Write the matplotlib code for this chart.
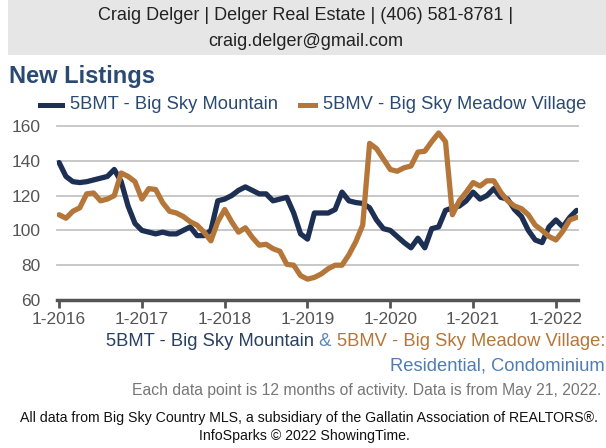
import matplotlib
matplotlib.use("Agg")
import matplotlib.pyplot as plt
import numpy as np

plt.rcParams['font.family'] = ['Liberation Sans', 'DejaVu Sans']

# monthly values, Jan 2016 .. Apr 2022
bmt = [139, 131, 128, 127.5, 128, 129, 130, 131, 135, 128, 114, 104,
       100, 99, 98, 99, 98, 98, 100, 102, 97, 97, 100, 117,
       118, 120, 123, 125, 123, 121, 121, 117, 118, 119, 110, 98,
       95, 110, 110, 110, 112, 122, 117, 116, 115.5, 113, 106, 101,
       100, 96.5, 93, 90, 95.5, 90, 101, 102, 111.5, 113, 114, 117,
       122, 118, 120, 124, 119, 118, 112, 108, 100, 94.5, 93, 102,
       106, 102, 107.5, 111.5]
bmv = [109, 107, 111, 113, 121, 121.5, 117, 118, 120, 133, 131, 128,
       118, 124, 123.5, 116, 111, 110, 108, 105, 103, 99, 94, 105,
       112, 105, 99, 101.5, 96, 91.5, 92, 89.5, 88, 80.5, 80, 74,
       72, 73, 75, 78, 80, 80, 86, 93.5, 103, 150, 147, 141,
       135, 134, 136, 137, 145, 145.5, 151, 156, 151, 109, 117, 122,
       127.5, 125.5, 128.5, 128.5, 122, 117, 114, 112.5, 109, 103, 100, 96.5,
       94.5, 99.5, 106, 107.5]
years = ["1-2016", "1-2017", "1-2018", "1-2019", "1-2020", "1-2021", "1-2022"]
yticks = [60, 80, 100, 120, 140, 160]

navy = "#1d2f52"
copper = "#b5763a"
W, H = 606, 448


def px(x, y):
    return x / W, 1 - y / H


fig = plt.figure(figsize=(W / 100, H / 100), dpi=100)
fig.patch.set_facecolor("white")

# header box
fig.patches.append(plt.Rectangle(px(8, 55), 1, 55 / H, transform=fig.transFigure,
                                 facecolor="#e6e6e6", edgecolor="none"))
fig.text(*px(306, 16), "Craig Delger | Delger Real Estate | (406) 581-8781 |",
         ha="center", va="center", fontsize=13, color="#222222")
fig.text(*px(306, 42), "craig.delger@gmail.com", ha="center", va="center",
         fontsize=13, color="#222222")

fig.text(*px(9, 77), "New Listings", ha="left", va="center", fontsize=17,
         fontweight="bold", color="#2a4a72")

# legend
for x0, x1, lab, c in [(38, 70, "5BMT - Big Sky Mountain", navy),
                       (298, 323, "5BMV - Big Sky Meadow Village", copper)]:
    fig.patches.append(plt.Rectangle(px(x0, 108), (x1 - x0 - 5) / W, 4.5 / H,
                                     transform=fig.transFigure, facecolor=c))
    fig.text(*px(x1, 104), lab, ha="left", va="center", fontsize=13.2, color="#2a4a72")

ax = fig.add_axes([57 / W, 1 - 300 / H, 521 / W, 174 / H])
ax.set_facecolor("white")
m = np.arange(len(bmt))
ax.plot(m, bmt, color=navy, lw=3.8, solid_joinstyle="round", solid_capstyle="round")
ax.plot(m, bmv, color=copper, lw=3.8, solid_joinstyle="round", solid_capstyle="round")
ax.set_xlim(-0.3, 75.2)
ax.set_ylim(60, 160)
ax.set_yticks(yticks)
ax.set_xticks(np.arange(len(years)) * 12)
ax.set_xticklabels(years)
ax.tick_params(axis="y", length=0, pad=12, labelsize=12.5, labelcolor="#555555")
ax.tick_params(axis="x", length=6, width=2, color="#555555", pad=3,
               labelsize=12.5, labelcolor="#555555")
for yv in yticks[1:]:
    ax.axhline(yv, color="#c4c4c4", lw=1.3, zorder=0, clip_on=False)
for s in ["top", "right", "left"]:
    ax.spines[s].set_visible(False)
ax.spines["bottom"].set_color("#555555")
ax.spines["bottom"].set_linewidth(2.5)

# subtitle line in several colours, right aligned at the edge
fig.canvas.draw()
r = fig.canvas.get_renderer()
xr = 605
for txt, c in [("5BMV - Big Sky Meadow Village:", copper), (" & ", "#5a86b8"),
               ("5BMT - Big Sky Mountain", "#2a4060")]:
    t = fig.text(*px(xr, 342), txt, ha="right", va="center", fontsize=13.2, color=c)
    bb = t.get_window_extent(r)
    xr = xr - bb.width
fig.text(*px(605, 366), "Residential, Condominium", ha="right", va="center",
         fontsize=13.2, color="#4f7db3")
fig.text(*px(601, 390), "Each data point is 12 months of activity. Data is from May 21, 2022.",
         ha="right", va="center", fontsize=11.35, color="#777777")
fig.text(*px(309, 418), "All data from Big Sky Country MLS, a subsidiary of the Gallatin Association of REALTORS®.",
         ha="center", va="center", fontsize=10.2, color="#111111")
fig.text(*px(304, 436), "InfoSparks © 2022 ShowingTime.", ha="center", va="center",
         fontsize=10.2, color="#111111")

fig.savefig("out.png", dpi=100)
